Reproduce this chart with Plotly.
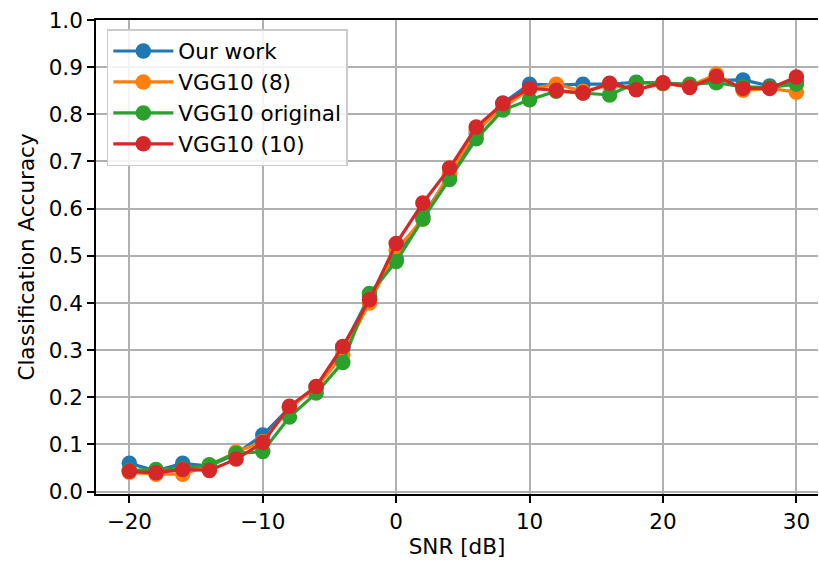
import plotly.graph_objects as go

snr = list(range(-20, 31, 2))

our_work = [0.060, 0.044, 0.060, 0.054, 0.080, 0.120, 0.178, 0.222, 0.303, 0.415,
            0.492, 0.584, 0.670, 0.760, 0.824, 0.864, 0.862, 0.864, 0.864, 0.868,
            0.866, 0.862, 0.872, 0.873, 0.860, 0.867]
vgg10_8 = [0.041, 0.037, 0.037, 0.055, 0.084, 0.106, 0.178, 0.220, 0.290, 0.400,
           0.512, 0.578, 0.675, 0.765, 0.815, 0.853, 0.864, 0.849, 0.862, 0.853,
           0.865, 0.860, 0.885, 0.851, 0.855, 0.847]
vgg10_orig = [0.045, 0.047, 0.049, 0.057, 0.081, 0.085, 0.158, 0.209, 0.274, 0.420,
              0.488, 0.578, 0.662, 0.748, 0.809, 0.831, 0.849, 0.845, 0.841, 0.867,
              0.866, 0.864, 0.867, 0.858, 0.857, 0.864]
vgg10_10 = [0.043, 0.040, 0.047, 0.045, 0.069, 0.104, 0.181, 0.223, 0.308, 0.407,
            0.526, 0.612, 0.686, 0.773, 0.823, 0.855, 0.851, 0.845, 0.866, 0.852,
            0.867, 0.857, 0.880, 0.855, 0.855, 0.879]

series = [
    ("Our work", our_work, "#1f77b4"),
    ("VGG10 (8)", vgg10_8, "#ff7f0e"),
    ("VGG10 original", vgg10_orig, "#2ca02c"),
    ("VGG10 (10)", vgg10_10, "#d62728"),
]

x_ticks = [-20, -10, 0, 10, 20, 30]
y_ticks = [round(0.1 * i, 1) for i in range(11)]

fig = go.Figure()
for i, (name, vals, color) in enumerate(series):
    fig.add_trace(go.Scatter(
        x=snr, y=vals, name=name, mode="lines+markers",
        line=dict(color=color, width=3.2),
        marker=dict(color=color, size=15.5),
        legendgroup=f"g{i}",
    ))

font = "DejaVu Sans, sans-serif"
FS = 21.5
fig.update_layout(
    width=819, height=563,
    margin=dict(l=96, r=1, t=20, b=69),
    paper_bgcolor="white", plot_bgcolor="white",
    font=dict(family=font, size=FS, color="black"),
    showlegend=True,
    legend=dict(
        x=0.015, y=0.981, xanchor="left", yanchor="top",
        bgcolor="rgba(255,255,255,0.85)", bordercolor="#cccccc", borderwidth=1.5,
        font=dict(family=font, size=FS, color="black"),
        tracegroupgap=0, itemwidth=60,
    ),
    xaxis=dict(
        range=[-22.5, 31.62], tickvals=x_ticks,
        ticktext=[("\u2212" + str(-t)) if t < 0 else str(t) for t in x_ticks],
        showgrid=True, gridcolor="#b0b0b0", gridwidth=1.7,
        showline=True, linecolor="black", linewidth=1.7, mirror=True,
        ticks="outside", ticklen=7, tickwidth=1.7, tickcolor="black",
        zeroline=False,
        title=dict(text="SNR [dB]", font=dict(family=font, size=FS), standoff=6),
        tickfont=dict(family=font, size=FS),
    ),
    yaxis=dict(
        range=[-0.005, 1.0], tickvals=y_ticks,
        ticktext=[f"{t:.1f}" for t in y_ticks],
        showgrid=True, gridcolor="#b0b0b0", gridwidth=1.7,
        showline=True, linecolor="black", linewidth=1.7, mirror=False,
        ticks="outside", ticklen=7, tickwidth=1.7, tickcolor="black",
        zeroline=False,
        title=dict(text="Classification Accuracy", font=dict(family=font, size=FS), standoff=8),
        tickfont=dict(family=font, size=FS),
    ),
)

fig.write_html("out.html")
